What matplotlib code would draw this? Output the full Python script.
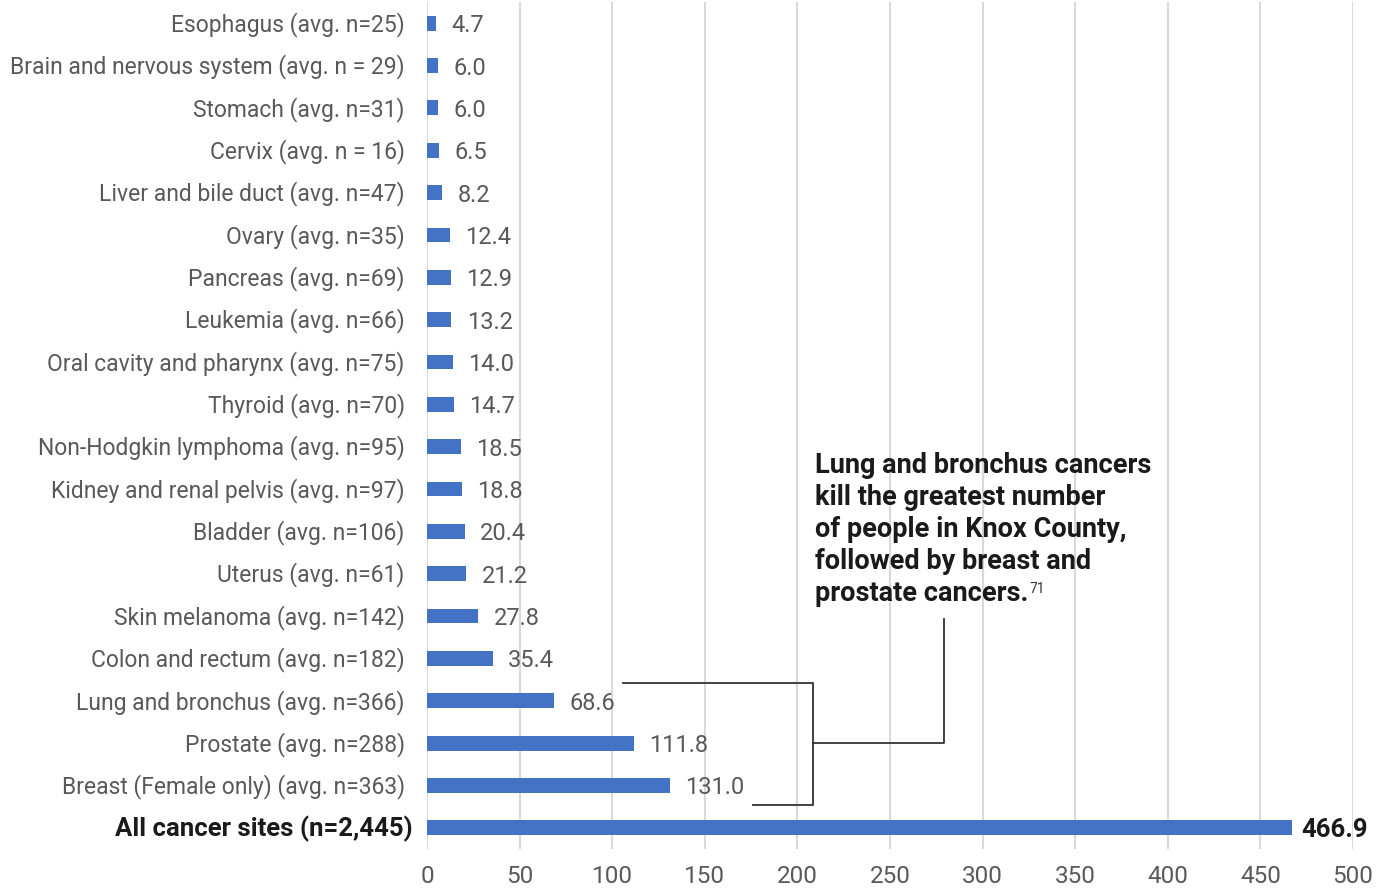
import matplotlib
matplotlib.use("Agg")
import matplotlib.pyplot as plt
from matplotlib.transforms import ScaledTranslation

categories = [
    "Esophagus (avg. n=25)",
    "Brain and nervous system (avg. n = 29)",
    "Stomach (avg. n=31)",
    "Cervix (avg. n = 16)",
    "Liver and bile duct (avg. n=47)",
    "Ovary (avg. n=35)",
    "Pancreas (avg. n=69)",
    "Leukemia (avg. n=66)",
    "Oral cavity and pharynx (avg. n=75)",
    "Thyroid (avg. n=70)",
    "Non-Hodgkin lymphoma (avg. n=95)",
    "Kidney and renal pelvis (avg. n=97)",
    "Bladder (avg. n=106)",
    "Uterus (avg. n=61)",
    "Skin melanoma (avg. n=142)",
    "Colon and rectum (avg. n=182)",
    "Lung and bronchus (avg. n=366)",
    "Prostate (avg. n=288)",
    "Breast (Female only) (avg. n=363)",
    "All cancer sites (n=2,445)",
]
values = [4.7, 6.0, 6.0, 6.5, 8.2, 12.4, 12.9, 13.2, 14.0, 14.7,
          18.5, 18.8, 20.4, 21.2, 27.8, 35.4, 68.6, 111.8, 131.0, 466.9]
x_ticks = [0, 50, 100, 150, 200, 250, 300, 350, 400, 450, 500]
note_lines = ["Lung and bronchus cancers", "kill the greatest number",
              "of people in Knox County,", "followed by breast and",
              "prostate cancers."]
note_ref = "71"

plt.rcParams['font.family'] = ['Roboto', 'DejaVu Sans']
GRAY = '#595959'
DARK = '#1a1a1a'
BLUE = '#4472C4'

fig = plt.figure(figsize=(13.84, 8.88), dpi=100)
ax = fig.add_axes([427/1384, 1-849/888, (1353-427)/1384, (849-2)/888])

ypos = list(range(len(categories)))
ax.barh(ypos, values, height=0.35, color=BLUE, zorder=3)
ax.set_ylim(len(categories)-0.5, -0.5)
ax.set_xlim(0, 500)
ax.set_xticks(x_ticks)
ax.set_xticklabels([str(t) for t in x_ticks], fontsize=17.5, color=GRAY)
ax.set_yticks(ypos)
ax.set_yticklabels(categories, fontsize=16.5, color=GRAY)
ax.tick_params(axis='x', length=0, pad=11.5)
ax.tick_params(axis='y', length=0, pad=16)
for s in ax.spines.values():
    s.set_visible(False)
ax.grid(axis='x', color='#D9D9D9', linewidth=1.5, zorder=0)
ax.set_axisbelow(True)

up = ScaledTranslation(0, 1.5/100, fig.dpi_scale_trans)
for lab in ax.get_yticklabels():
    lab.set_transform(lab.get_transform() + up)
last = ax.get_yticklabels()[-1]
last.set_fontweight('bold')
last.set_color(DARK)
last.set_fontsize(18.5)
last.set_transform(last.get_transform() + ScaledTranslation(8/100, 0, fig.dpi_scale_trans))

for i, v in enumerate(values):
    bold = (i == len(values)-1)
    ax.annotate(f"{v:.1f}", (v, i), xytext=(11 if not bold else 7, 0), textcoords='offset points',
                va='center_baseline', ha='left', fontsize=18.5 if bold else 17,
                color=DARK if bold else GRAY, fontweight='bold' if bold else 'normal')

# bracket annotation
lc = '#333333'
ax.plot([105.8, 208.4, 208.4, 176.0], [15.58, 15.58, 18.45, 18.45], color=lc, lw=1.3, clip_on=False, zorder=4)
ax.plot([208.4, 279.2, 279.2], [17, 17, 14.08], color=lc, lw=1.3, clip_on=False, zorder=4)

y0, step = 10.45, 0.755
texts = []
for k, line in enumerate(note_lines):
    texts.append(ax.text(209.5, y0 + k*step, line, fontsize=19.5, fontweight='bold', color=DARK,
                         va='center', ha='left'))
fig.canvas.draw()
bb = texts[-1].get_window_extent()
inv = ax.transData.inverted()
xe, ye = inv.transform((bb.x1, bb.y1))
ax.text(xe + 0.8, ye + 0.05, note_ref, fontsize=10, color='#333333', va='top', ha='left')

fig.savefig("out.png", dpi=100)
